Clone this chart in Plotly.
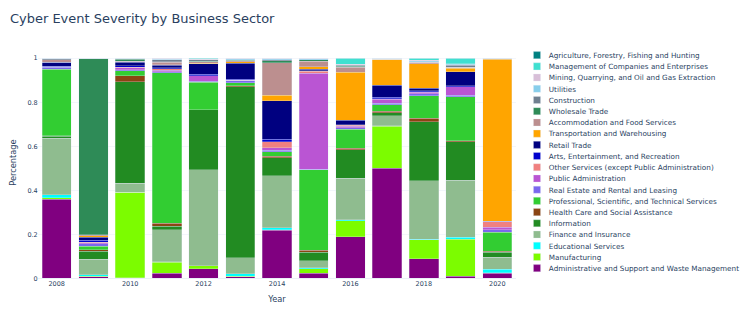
import plotly.graph_objects as go

years = [2008, 2009, 2010, 2011, 2012, 2013, 2014, 2015, 2016, 2017, 2018, 2019, 2020]

# stacked bottom-up
admin = [0.36, 0.008, 0.004, 0.024, 0.045, 0.008, 0.218, 0.024, 0.19, 0.5, 0.089, 0.01, 0.024]
manufacturing = [0.006, 0.002, 0.387, 0.049, 0.012, 0.003, 0.004, 0.02, 0.073, 0.19, 0.086, 0.168, 0.001]
educational = [0.014, 0.007, 0.001, 0.003, 0.0, 0.01, 0.008, 0.004, 0.003, 0.004, 0.003, 0.01, 0.018]
finance = [0.257, 0.071, 0.041, 0.145, 0.436, 0.072, 0.236, 0.032, 0.19, 0.044, 0.265, 0.257, 0.054]
information = [0.008, 0.035, 0.46, 0.015, 0.272, 0.778, 0.083, 0.04, 0.128, 0.015, 0.269, 0.176, 0.022]
health = [0.004, 0.008, 0.028, 0.014, 0.002, 0.004, 0.005, 0.008, 0.008, 0.006, 0.015, 0.004, 0.005]
professional = [0.30, 0.016, 0.022, 0.684, 0.124, 0.014, 0.022, 0.365, 0.086, 0.03, 0.103, 0.2, 0.085]
real_estate = [0.009, 0.010, 0.004, 0.004, 0.004, 0.008, 0.006, 0.004, 0.006, 0.006, 0.008, 0.006, 0.013]
public_admin = [0.003, 0.005, 0.01, 0.008, 0.026, 0.002, 0.012, 0.435, 0.008, 0.018, 0.008, 0.04, 0.01]
other_services = [0.0, 0.003, 0.002, 0.006, 0.0, 0.0, 0.027, 0.009, 0.003, 0.002, 0.002, 0.0, 0.025]
arts = [0.003, 0.008, 0.006, 0.004, 0.006, 0.006, 0.011, 0.003, 0.004, 0.008, 0.004, 0.005, 0.002]
retail = [0.018, 0.015, 0.017, 0.013, 0.048, 0.071, 0.175, 0.006, 0.019, 0.055, 0.011, 0.063, 0.0]
transportation = [0.0, 0.006, 0.002, 0.002, 0.002, 0.007, 0.025, 0.012, 0.218, 0.117, 0.111, 0.015, 0.737]
accommodation = [0.012, 0.005, 0.003, 0.01, 0.008, 0.006, 0.148, 0.024, 0.022, 0.0, 0.008, 0.004, 0.002]
wholesale = [0.0, 0.80, 0.008, 0.003, 0.002, 0.001, 0.009, 0.006, 0.006, 0.0, 0.0, 0.002, 0.0]
construction = [0.003, 0.001, 0.002, 0.008, 0.005, 0.003, 0.003, 0.002, 0.003, 0.002, 0.002, 0.008, 0.001]
utilities = [0.002, 0.0, 0.002, 0.004, 0.002, 0.005, 0.006, 0.004, 0.003, 0.003, 0.004, 0.004, 0.001]
mining = [0.001, 0.0, 0.001, 0.004, 0.002, 0.002, 0.002, 0.001, 0.002, 0.0, 0.002, 0.002, 0.0]
management = [0.0, 0.0, 0.0, 0.0, 0.004, 0.0, 0.0, 0.001, 0.027, 0.0, 0.01, 0.026, 0.0]
agriculture = [0.0, 0.0, 0.0, 0.0, 0.0, 0.0, 0.0, 0.0, 0.001, 0.0, 0.0, 0.0, 0.0]

sectors = [
    ("Administrative and Support and Waste Management", admin, "purple"),
    ("Manufacturing", manufacturing, "lawngreen"),
    ("Educational Services", educational, "aqua"),
    ("Finance and Insurance", finance, "darkseagreen"),
    ("Information", information, "forestgreen"),
    ("Health Care and Social Assistance", health, "saddlebrown"),
    ("Professional, Scientific, and Technical Services", professional, "limegreen"),
    ("Real Estate and Rental and Leasing", real_estate, "mediumslateblue"),
    ("Public Administration", public_admin, "mediumorchid"),
    ("Other Services (except Public Administration)", other_services, "lightcoral"),
    ("Arts, Entertainment, and Recreation", arts, "mediumblue"),
    ("Retail Trade", retail, "navy"),
    ("Transportation and Warehousing", transportation, "orange"),
    ("Accommodation and Food Services", accommodation, "rosybrown"),
    ("Wholesale Trade", wholesale, "seagreen"),
    ("Construction", construction, "slategray"),
    ("Utilities", utilities, "skyblue"),
    ("Mining, Quarrying, and Oil and Gas Extraction", mining, "thistle"),
    ("Management of Companies and Enterprises", management, "turquoise"),
    ("Agriculture, Forestry, Fishing and Hunting", agriculture, "teal"),
]

S = 0.59
W0, H0 = 1271, 536

fig = go.Figure()
for name, vals, color in sectors:
    fig.add_trace(go.Bar(x=years, y=vals, name=name, marker_color=color,
                         marker_line=dict(color="#E5ECF6", width=0.5)))

fig.update_layout(
    template="plotly_white",
    barmode="stack",
    width=W0, height=H0,
    font=dict(family="Verdana, DejaVu Sans, sans-serif", size=12, color="#2a3f5f"),
    title=dict(text="Cyber Event Severity by Business Sector", x=17 / W0, xanchor="left",
               xref="container", y=1 - 31 / H0, yanchor="middle", yref="container",
               font=dict(size=22)),
    margin=dict(l=65, r=397, t=79, b=64, autoexpand=False),
    legend=dict(font=dict(size=12.3), maxheight=520),
    xaxis=dict(title=dict(text="Year", font=dict(size=14)), tickfont=dict(size=11)),
    yaxis=dict(title=dict(text="Percentage", font=dict(size=14)), tickfont=dict(size=11)),
)

post = (
    "var gd=document.getElementById('{plot_id}');"
    "document.documentElement.style.overflow='hidden';"
    "document.body.style.margin='0';"
    "document.body.style.overflow='hidden';"
    "gd.style.transformOrigin='0 0';"
    "gd.style.transform='scale(" + str(S) + ")';"
)

fig.write_html("out.html", config={"responsive": False, "displayModeBar": False},
               post_script=post)
